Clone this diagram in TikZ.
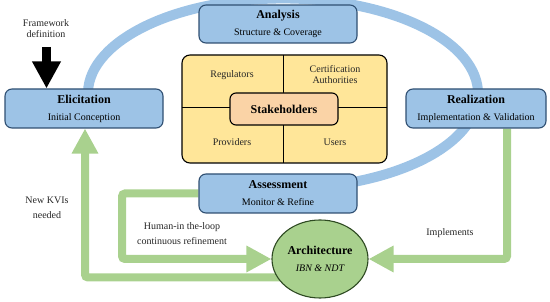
\documentclass[tikz,border=0pt]{standalone}
\usepackage{fontspec}
\setmainfont{Liberation Serif}
\usetikzlibrary{arrows.meta,shapes.geometric}
\pgfdeclarelayer{bg}
\pgfsetlayers{bg,main}
\definecolor{boxblue}{HTML}{9DC3E6}
\definecolor{boxline}{HTML}{2F4F72}
\definecolor{arcblue}{HTML}{9DC3E6}
\definecolor{stkyellow}{HTML}{FFE699}
\definecolor{stkpeach}{HTML}{FAD3A6}
\definecolor{archgreen}{HTML}{A9D18E}
\definecolor{archline}{HTML}{2E4A22}
\definecolor{flowgreen}{HTML}{A9D18E}
\begin{document}
\begin{tikzpicture}[x=1pt,y=-1pt,
  phasebox/.style={draw=boxline,line width=1.1pt,fill=boxblue,rounded corners=7pt,
    align=center,inner sep=0pt,font=\fontsize{10}{17}\selectfont},
  ttl/.style={},
  lbl/.style={align=center,font=\fontsize{10}{11}\selectfont,text=black!85},
  flow/.style={draw=flowgreen,line width=8pt,rounded corners=3pt,
    -{Triangle[width=25pt,length=25pt]}},
]
\useasboundingbox (0,0) rectangle (550,302);

% stakeholders block
\node[draw=black,line width=1.1pt,fill=stkyellow,rounded corners=8pt,
  minimum width=205pt,minimum height=108pt,inner sep=0pt] (stk) at (284.5,109) {};
\draw[line width=1pt] (283,55) -- (283,163);
\draw[line width=1pt] (182,108) -- (387,108);
\node[draw=black,line width=1.1pt,fill=stkpeach,rounded corners=6pt,
  minimum width=108pt,minimum height=32pt,inner sep=0pt,
  font=\fontsize{12}{14}\selectfont\bfseries] (core) at (284,109) {Stakeholders};
\node[lbl] (reg) at (232,75) {Regulators};
\node[lbl] (cert) at (335,75) {Certification\\Authorities};
\node[lbl] (prov) at (232,142) {Providers};
\node[lbl] (usr) at (335,142) {Users};

% phase boxes
\node[phasebox,minimum width=158pt,minimum height=39pt] (elic) at (84,108.5)
  {{\fontsize{12}{17}\selectfont\bfseries Elicitation}\\Initial Conception};
\node[phasebox,minimum width=158pt,minimum height=38pt] (anal) at (278,24)
  {{\fontsize{12}{17}\selectfont\bfseries Analysis}\\Structure \& Coverage};
\node[phasebox,minimum width=140pt,minimum height=39pt] (real) at (476,108.5)
  {{\fontsize{12}{17}\selectfont\bfseries Realization}\\Implementation \& Validation};
\node[phasebox,minimum width=158pt,minimum height=39pt] (assess) at (278,193.5)
  {{\fontsize{12}{17}\selectfont\bfseries Assessment}\\Monitor \& Refine};

% architecture
\node[ellipse,draw=archline,line width=1.1pt,fill=archgreen,
  minimum width=96pt,minimum height=78pt,inner sep=0pt,align=center,
  font=\fontsize{10}{17}\selectfont] (arch) at (320,259)
  {{\fontsize{12}{17}\selectfont\bfseries Architecture}\\\itshape IBN \& NDT};

% free labels
\node[lbl] (fwtxt) at (46,29) {Framework\\definition};
\node[lbl,font=\fontsize{10}{14.5}\selectfont] (kvi) at (47,208) {New KVIs\\needed};
\node[lbl,font=\fontsize{10}{15}\selectfont] (hitl) at (182,233.5) {Human-in the-loop\\continuous refinement};
\node[lbl] (impl) at (450,233) {Implements};

% helper coordinates
\coordinate (fwtop) at (46.5,47);
\coordinate (gx) at (507,0);
\coordinate (lx) at (122,0);
\coordinate (bx) at (85,0);
\coordinate (by) at (0,277.5);

% black input arrow
\draw[line width=9pt,black,-{Triangle[width=27pt,length=27pt]}]
  (fwtop) -- (fwtop |- elic.north);

\begin{pgfonlayer}{bg}
  % blue cycle arc
  \draw[arcblue,line width=10pt] (283,110) ++(175:195pt and 95pt)
    arc[start angle=175,end angle=450,x radius=195,y radius=95];
  % green flows
  \draw[flow] (gx |- real.south) -- (gx |- arch.east) -- (arch.east);
  \draw[flow] (assess.west) -- (lx |- assess.west) -- (lx |- arch.west) -- (arch.west);
  \draw[flow] (arch.center |- by) -- (bx |- by) -- (bx |- elic.south);
\end{pgfonlayer}
\end{tikzpicture}
\end{document}
